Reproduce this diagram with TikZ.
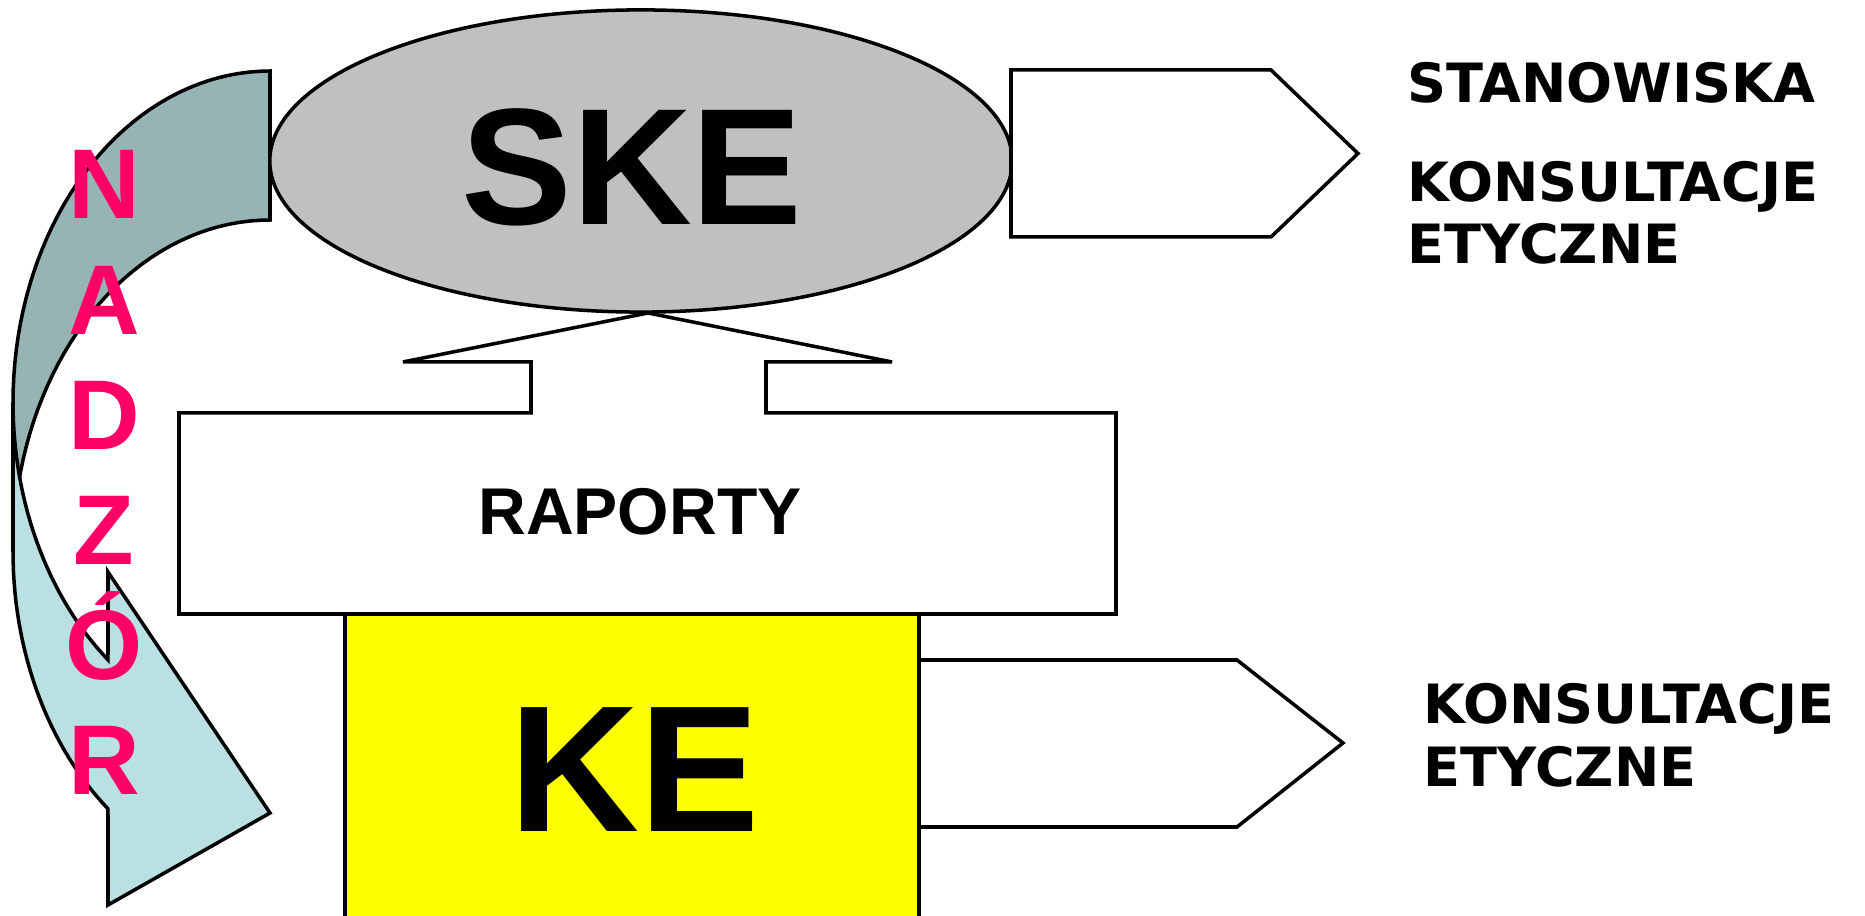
\documentclass[tikz,border=0pt]{standalone}
\usepackage{fontspec}
\setmainfont{Liberation Sans}
\newfontfamily\arialbold{Liberation Sans Bold}
\newfontfamily\verdbold{DejaVu Sans Bold}
\usetikzlibrary{shapes.geometric}
\definecolor{band}{HTML}{96B4B4}
\definecolor{bandlight}{HTML}{BAE0E3}
\definecolor{skegray}{HTML}{C0C0C0}
\definecolor{keyellow}{HTML}{FFFF00}
\definecolor{nadzor}{HTML}{FF0066}

\begin{document}
\begin{tikzpicture}[x=0.01cm,y=-0.01cm,line width=1pt,line join=miter,
  boxline/.style={draw=black,fill=white},
  biglabel/.style={inner sep=0pt,anchor=base,font=\arialbold\fontsize{47.2pt}{50pt}\selectfont},
  sidenote/.style={inner sep=0pt,anchor=base west,font=\verdbold\fontsize{15.4pt}{17.6pt}\selectfont},
  nadzorletter/.style={inner sep=0pt,anchor=base,text=nadzor,font=\arialbold\fontsize{28.2pt}{32pt}\selectfont}]
  \useasboundingbox (0,0) rectangle (1865,916);
  \clip (0,0) rectangle (1865,916);
  % back of the curved arrow
  \filldraw[fill=band] plot[domain=90:180,variable=\t,samples=40] ({270+257*cos(\t)},{402.5-331.5*sin(\t)})
    -- plot[domain=180:90,variable=\t,samples=40] ({270+257*cos(\t)},{551.5-331.5*sin(\t)}) -- cycle;
  % SKE
  \node[ellipse,draw,fill=skegray,minimum width=7.42cm,minimum height=3.02cm,inner sep=0pt] (ske) at (641,161) {};
  \node[biglabel] (sketext) at (632,225) {SKE};
  % callout with the reports
  \filldraw[boxline] (179,413) -- (531,413) -- (531,362) -- (403,362) -- (648,313) -- (892,362) -- (766,362)
    -- (766,413) -- (1116,413) -- (1116,614) -- (179,614) -- cycle;
  \node[inner sep=0pt,anchor=base,font=\arialbold\fontsize{18.8pt}{20pt}\selectfont] (raporty) at (640,535) {RAPORTY};
  % KE
  \filldraw[draw=black,fill=keyellow] (345,940) -- (345,614) -- (919,614) -- (919,940);
  \node[biglabel,font=\arialbold\fontsize{51.2pt}{54pt}\selectfont] (ke) at (635,832) {KE};
  % arrows to the right
  \filldraw[boxline] (1011,70) -- (1271,70) -- (1358,153.5) -- (1271,237) -- (1011,237) -- cycle;
  \filldraw[boxline] (919,660) -- (1237,660) -- (1343,743) -- (1237,827) -- (919,827) -- cycle;
  \node[sidenote] (stan) at (1406,103) {STANOWISKA};
  \node[sidenote] (konsA) at (1406,202) {KONSULTACJE};
  \node[sidenote] (etycA) at (1406,264) {ETYCZNE};
  \node[sidenote] (konsB) at (1422,724) {KONSULTACJE};
  \node[sidenote] (etycB) at (1422,787) {ETYCZNE};
  % front of the curved arrow
  \filldraw[fill=bandlight] plot[domain=180:230.92,variable=\t,samples=30] ({270+257*cos(\t)},{402.5-331.5*sin(\t)})
    -- (108,572) -- (270,813) -- (108,905)
    -- plot[domain=230.92:180,variable=\t,samples=30] ({270+257*cos(\t)},{551.5-331.5*sin(\t)}) -- cycle;
  \foreach \ch [count=\i from 0] in {N,A,D,Z,Ó,R}
    \node[nadzorletter] (nad\i) at (104,{219+115.2*\i}) {\ch};
\end{tikzpicture}
\end{document}
